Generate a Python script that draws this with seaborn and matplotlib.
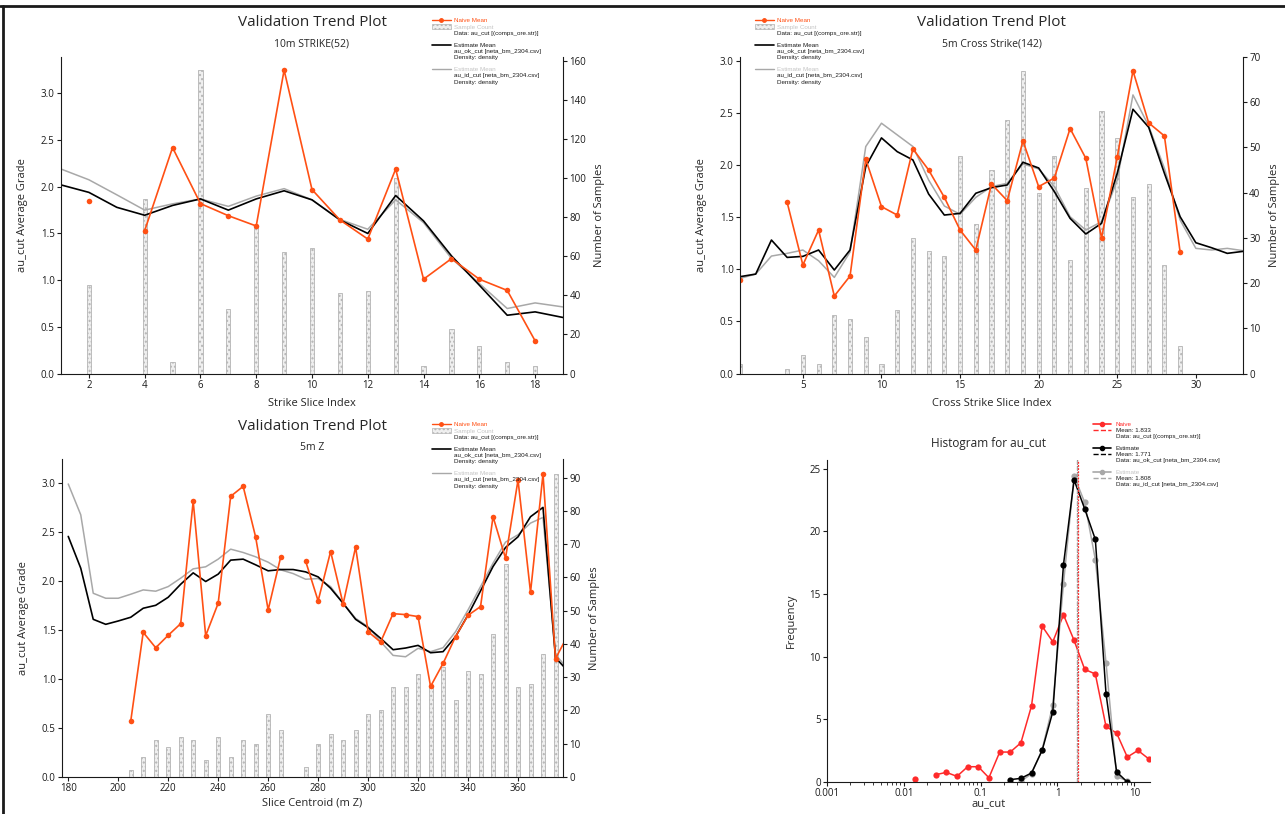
import matplotlib
matplotlib.use("Agg")
import matplotlib.pyplot as plt
import matplotlib.ticker as mticker
from matplotlib.lines import Line2D
from matplotlib.patches import Patch
import numpy as np
import pandas as pd
import seaborn as sns

nan = np.nan

# 10m STRIKE(52)
strike_idx = list(range(1, 20))
strike_bar_idx = list(range(2, 19))
strike_count = [45, 0, 89, 6, 155, 33, 75, 62, 64, 41, 42, 100, 4, 23, 14, 6, 4]
strike_naive = [1.85, nan, 1.53, 2.42, 1.82, 1.69, 1.58, 3.25, 1.97, 1.645, 1.44, 2.19, 1.01, 1.23, 1.01, 0.89, 0.35]
strike_ok = [2.02, 1.94, 1.78, 1.695, 1.80, 1.87, 1.75, 1.87, 1.957, 1.86, 1.645, 1.50, 1.906, 1.634, 1.26, 0.946, 0.624, 0.66, 0.60]
strike_id = [2.19, 2.075, 1.914, 1.75, 1.817, 1.87, 1.79, 1.90, 1.98, 1.86, 1.65, 1.545, 1.86, 1.616, 1.233, 0.964, 0.696, 0.756, 0.713]

# 5m Cross Strike(142)
cross_idx = list(range(1, 34))
cross_count = [2, 0, 0, 1, 4, 2, 13, 12, 8, 2, 14, 30, 27, 26, 48, 33, 45, 56, 67, 40, 48, 25, 41, 58, 52, 39, 42, 24, 6, 0, 0, 0, 0]
cross_naive = [0.90, nan, nan, 1.644, 1.042, 1.378, 0.744, 0.936, 2.058, 1.603, 1.522, 2.157, 1.955, 1.692, 1.378, 1.186,
               1.82, 1.66, 2.234, 1.795, 1.878, 2.353, 2.067, 1.301, 2.08, 2.907, 2.407, 2.282, 1.167, nan, nan, nan, nan]
cross_ok = [0.93, 0.955, 1.282, 1.115, 1.125, 1.186, 0.994, 1.186, 1.987, 2.263, 2.131, 2.051, 1.724, 1.522, 1.538, 1.731,
            1.785, 1.811, 2.029, 1.974, 1.747, 1.49, 1.34, 1.442, 1.923, 2.538, 2.365, 1.923, 1.506, 1.256, 1.208, 1.154, 1.173]
cross_id = [0.913, 0.955, 1.128, 1.154, 1.186, 1.083, 0.923, 1.167, 2.18, 2.404, 2.292, 2.18, 1.859, 1.609, 1.529, 1.692,
            1.795, 1.827, 2.013, 1.965, 1.795, 1.506, 1.378, 1.458, 1.859, 2.676, 2.378, 1.971, 1.474, 1.202, 1.186, 1.202, 1.18]

# 5m Z
z_centroid = [180, 185, 190, 195, 200, 205, 210, 215, 220, 225, 230, 235, 240, 245, 250, 255, 260, 265, 270, 275, 280,
              285, 290, 295, 300, 305, 310, 315, 320, 325, 330, 335, 340, 345, 350, 355, 360, 365, 370, 375, 380]
z_count = [0, 0, 0, 0, 0, 2, 6, 11, 9, 12, 11, 5, 12, 6, 11, 10, 19, 14, 0, 3, 10,
           13, 11, 14, 19, 20, 27, 27, 31, 27, 33, 23, 32, 31, 43, 64, 27, 28, 37, 91]
z_naive = [nan, nan, nan, nan, nan, 0.569, 1.476, 1.319, 1.446, 1.565, 2.813, 1.442, 1.773, 2.864, 2.966, 2.448, 1.705,
           2.243, nan, 2.203, 1.797, 2.301, 1.766, 2.346, 1.483, 1.377, 1.667, 1.657, 1.637, 0.924, 1.159, 1.432, 1.650,
           1.739, 2.656, 2.233, 3.031, 1.885, 3.092, 1.207, 1.45]
z_ok = [2.455, 2.131, 1.609, 1.558, 1.592, 1.63, 1.722, 1.752, 1.834, 1.967, 2.083, 1.995, 2.07, 2.213, 2.223, 2.165,
        2.104, 2.117, 2.117, 2.093, 2.042, 1.926, 1.773, 1.609, 1.524, 1.415, 1.299, 1.316, 1.343, 1.268, 1.279, 1.432,
        1.654, 1.899, 2.148, 2.342, 2.451, 2.656, 2.751, 1.217, 1.08]
z_id = [2.99, 2.676, 1.875, 1.824, 1.824, 1.865, 1.909, 1.896, 1.943, 2.029, 2.124, 2.145, 2.223, 2.325, 2.291, 2.247,
        2.192, 2.114, 2.076, 2.018, 2.025, 1.943, 1.773, 1.619, 1.534, 1.381, 1.241, 1.227, 1.313, 1.279, 1.319, 1.483,
        1.705, 1.943, 2.182, 2.397, 2.472, 2.591, 2.649, 1.25, 1.1]

# Histogram for au_cut
hist_bins = [0.0139, 0.0191, 0.026, 0.0357, 0.0492, 0.0677, 0.093, 0.128, 0.177, 0.243, 0.334, 0.459,
             0.631, 0.869, 1.197, 1.645, 2.26, 3.11, 4.28, 5.89, 8.1, 11.15, 15.3]
hist_naive = [0.24, nan, 0.58, 0.77, 0.45, 1.22, 1.22, 0.34, 2.39, 2.39, 3.13, 6.07,
              12.44, 11.19, 13.34, 11.3, 8.99, 8.62, 4.43, 3.9, 1.99, 2.52, 1.86]
hist_ok = [nan, nan, nan, nan, nan, nan, nan, nan, nan, 0.19, 0.29, 0.72,
           2.52, 5.6, 17.35, 24.11, 21.8, 19.36, 7.06, 0.8, 0.0, nan, nan]
hist_id = [nan, nan, nan, nan, nan, nan, nan, nan, nan, nan, 0.05, 0.66,
           2.57, 6.13, 15.84, 24.43, 22.31, 17.75, 9.52, 0.45, 0.08, nan, nan]
mean_naive, mean_ok, mean_id = 1.833, 1.771, 1.808

ORANGE = "#ff5014"
RED = "#ff2a2a"
GRAY = "#a8a8a8"
LIGHT_TXT = "#c4c4c4"
BAR_FACE = "#efefef"
BAR_EDGE = "#b4b4b4"
DARK = "#1a1a1a"

sns.set_style("ticks")
plt.rcParams["font.family"] = ["Open Sans", "DejaVu Sans"]

W, H = 1285, 814
fig = plt.figure(figsize=(W / 100, H / 100), dpi=100)


def rect(l, t, r, b):
    return [l / W, 1 - b / H, (r - l) / W, (b - t) / H]


def segments(x, y):
    # split a series at missing values so gaps are not bridged
    df = pd.DataFrame({"x": x, "y": y})
    df["seg"] = df["y"].isna().cumsum()
    return df.dropna()


def style_axes(ax, axr):
    for a in (ax, axr):
        a.tick_params(labelsize=7, length=3, width=0.8, pad=1.5, colors=DARK)
    ax.spines["top"].set_visible(False)
    ax.spines["right"].set_visible(False)
    axr.spines["top"].set_visible(False)
    axr.spines["left"].set_visible(False)
    axr.spines["bottom"].set_visible(False)
    for s in ("left", "bottom"):
        ax.spines[s].set_color(DARK)
    axr.spines["right"].set_color(DARK)


def trend_legend(ax, x, y):
    blank = Line2D([], [], color="none")
    handles = [Line2D([], [], color=ORANGE, marker="o", markersize=2.5, lw=1),
               Patch(facecolor=BAR_FACE, edgecolor=BAR_EDGE, hatch="....", lw=0.5),
               blank, blank,
               Line2D([], [], color="black", lw=1.2), blank, blank, blank,
               Line2D([], [], color=GRAY, lw=1), blank, blank]
    labels = ["Naive Mean", "Sample Count", "Data: au_cut [(comps_ore.str)]", "",
              "Estimate Mean", "au_ok_cut [neta_bm_2304.csv]", "Density: density", "",
              "Estimate Mean", "au_id_cut [neta_bm_2304.csv]", "Density: density"]
    colors = [ORANGE, LIGHT_TXT, DARK, DARK, DARK, DARK, DARK, DARK, LIGHT_TXT, DARK, DARK]
    leg = ax.legend(handles, labels, loc="upper left", bbox_to_anchor=(x / W, 1 - y / H),
                    bbox_transform=fig.transFigure, frameon=False, handlelength=3.0,
                    handletextpad=0.45, labelspacing=0.12, borderpad=0, borderaxespad=0,
                    prop={"family": "Liberation Sans", "size": 4.5})
    for t, c in zip(leg.get_texts(), colors):
        t.set_color(c)


def trend_panel(box, idx, bar_idx, count, naive, ok, idw, bar_w, title_y, subtitle, xlabel,
                xlim, ylim, rlim, yticks, rticks, xticks, leg_xy, xpad):
    ax = fig.add_axes(rect(*box))
    axr = ax.twinx()
    ax.set_zorder(axr.get_zorder() + 1)
    ax.patch.set_visible(False)

    sns.barplot(x=bar_idx, y=count, native_scale=True, orient="x", width=bar_w, color=BAR_FACE,
                edgecolor=BAR_EDGE, linewidth=0.6, hatch="....", saturation=1, errorbar=None, ax=axr)

    sns.lineplot(x=idx, y=idw, color=GRAY, lw=1.1, ax=ax)
    sns.lineplot(x=idx, y=ok, color="black", lw=1.2, ax=ax)
    sns.lineplot(data=segments(bar_idx if len(naive) == len(bar_idx) else idx, naive), x="x", y="y",
                 units="seg", estimator=None, color=ORANGE, lw=1.2, marker="o", markersize=4,
                 markeredgewidth=0, ax=ax)

    ax.set_xlim(*xlim)
    ax.set_ylim(*ylim)
    axr.set_ylim(*rlim)
    ax.set_yticks(yticks)
    ax.yaxis.set_major_formatter(mticker.FormatStrFormatter("%.1f"))
    axr.set_yticks(rticks)
    ax.set_xticks(xticks)
    ax.set_xlabel(xlabel, fontsize=8, labelpad=xpad)
    ax.set_ylabel("au_cut Average Grade", fontsize=8, labelpad=9)
    axr.set_ylabel("Number of Samples", fontsize=8, labelpad=6)
    style_axes(ax, axr)

    cx = (box[0] + box[2]) / 2
    fig.text(cx / W, 1 - title_y / H, "Validation Trend Plot", fontsize=11, ha="center", va="center")
    fig.text(cx / W, 1 - (title_y + 22) / H, subtitle, fontsize=7.5, ha="center", va="center")
    trend_legend(ax, *leg_xy)
    return ax


trend_panel((61, 57, 563, 373.5), strike_idx, strike_bar_idx, strike_count, strike_naive, strike_ok,
            strike_id, 0.15, 22, "10m STRIKE(52)", "Strike Slice Index", (1, 19), (0, 3.39), (0, 161.8),
            np.arange(0, 3.01, 0.5), range(0, 161, 20), range(2, 19, 2), (432, 18), 5)

trend_panel((740, 57, 1243, 373.5), cross_idx, cross_idx, cross_count, cross_naive, cross_ok,
            cross_id, 0.26, 22, "5m Cross Strike(142)", "Cross Strike Slice Index", (1, 33), (0, 3.04),
            (0, 70), np.arange(0, 3.01, 0.5), range(0, 71, 10), range(5, 31, 5), (755, 18), 5)

trend_panel((62, 459, 563, 777), z_centroid, z_centroid[:-1], z_count, z_naive, z_ok, z_id, 0.32,
            426, "5m Z", "Slice Centroid (m Z)", (177.5, 378), (0, 3.245), (0, 95.6),
            np.arange(0, 3.01, 0.5), range(0, 91, 10), range(180, 361, 20), (432, 422), 2)

# histogram panel
axh = fig.add_axes(rect(827, 460, 1150, 782))
axh.set_xscale("log")
sns.lineplot(data=segments(hist_bins, hist_naive), x="x", y="y", units="seg", estimator=None,
             color=RED, lw=1.1, marker="o", markersize=4.5, markeredgewidth=0, ax=axh)
sns.lineplot(data=segments(hist_bins, hist_id), x="x", y="y", units="seg", estimator=None,
             color=GRAY, lw=1.1, marker="o", markersize=4.5, markeredgewidth=0, ax=axh)
sns.lineplot(data=segments(hist_bins, hist_ok), x="x", y="y", units="seg", estimator=None,
             color="black", lw=1.1, marker="o", markersize=4.5, markeredgewidth=0, ax=axh)
axh.axvline(mean_ok, color="black", ls="--", lw=0.8)
axh.axvline(mean_id, color=GRAY, ls="--", lw=0.8)
axh.axvline(mean_naive, color=RED, ls=(0, (1.5, 1)), lw=0.9)
axh.set_xlim(0.001, 16)
axh.set_ylim(0, 25.7)
axh.set_xticks([0.001, 0.01, 0.1, 1, 10])
axh.set_xticklabels(["0.001", "0.01", "0.1", "1", "10"])
axh.xaxis.set_minor_formatter(mticker.NullFormatter())
axh.set_yticks(range(0, 26, 5))
axh.set_xlabel("au_cut", fontsize=8, labelpad=0)
axh.set_ylabel("Frequency", fontsize=8, labelpad=9)
axh.tick_params(labelsize=7, length=3, width=0.8, pad=1.5, colors=DARK)
axh.tick_params(which="minor", length=1.8, width=0.6, colors=DARK)
sns.despine(ax=axh)
for s in ("left", "bottom"):
    axh.spines[s].set_color(DARK)
fig.text(988.5 / W, 1 - 444 / H, "Histogram for au_cut", fontsize=8.5, ha="center", va="center")

blank = Line2D([], [], color="none")
h_handles = [Line2D([], [], color=RED, marker="o", markersize=3, lw=1.2),
             Line2D([], [], color=RED, ls="--", lw=1), blank, blank,
             Line2D([], [], color="black", marker="o", markersize=3, lw=1.2),
             Line2D([], [], color="black", ls="--", lw=1), blank, blank,
             Line2D([], [], color=GRAY, marker="o", markersize=3, lw=1.2),
             Line2D([], [], color=GRAY, ls="--", lw=1), blank]
h_labels = ["Naive", f"Mean: {mean_naive}", "Data: au_cut [(comps_ore.str)]", "",
            "Estimate", f"Mean: {mean_ok}", "Data: au_ok_cut [neta_bm_2304.csv]", "",
            "Estimate", f"Mean: {mean_id}", "Data: au_id_cut [neta_bm_2304.csv]"]
h_colors = [RED, DARK, DARK, DARK, DARK, DARK, DARK, DARK, LIGHT_TXT, DARK, DARK]
leg = axh.legend(h_handles, h_labels, loc="upper left", bbox_to_anchor=(1093 / W, 1 - 422 / H),
                 bbox_transform=fig.transFigure, frameon=False, handlelength=2.8, handletextpad=0.8,
                 labelspacing=0.1, borderpad=0, borderaxespad=0,
                 prop={"family": "Liberation Sans", "size": 4.5})
for t, c in zip(leg.get_texts(), h_colors):
    t.set_color(c)

# outer frame
fig.add_artist(Line2D([0, 1], [1 - 6 / H, 1 - 6 / H], transform=fig.transFigure, color=DARK, lw=2))
fig.add_artist(Line2D([3 / W, 3 / W], [0, 1 - 6 / H], transform=fig.transFigure, color=DARK, lw=2))

fig.savefig("out.png", dpi=100)
